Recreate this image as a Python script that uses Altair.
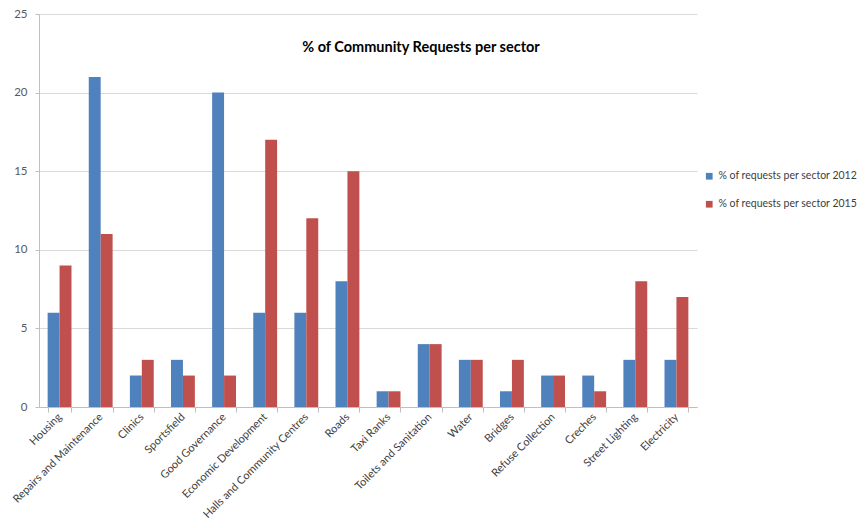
import altair as alt
import pandas as pd

sectors = ["Housing", "Repairs and Maintenance", "Clinics", "Sportsfield", "Good Governance",
           "Economic Development", "Halls and Community Centres", "Roads", "Taxi Ranks",
           "Toilets and Sanitation", "Water", "Bridges", "Refuse Collection", "Creches",
           "Street Lighting", "Electricity"]
values_2012 = [6, 21, 2, 3, 20, 6, 6, 8, 1, 4, 3, 1, 2, 2, 3, 3]
values_2015 = [9, 11, 3, 2, 2, 17, 12, 15, 1, 4, 3, 3, 2, 1, 8, 7]
series_names = ["% of requests per sector 2012", "% of requests per sector 2015"]
colors = ["#4F81BD", "#C0504D"]

rows = []
for s, a, b in zip(sectors, values_2012, values_2015):
    rows.append({"sector": s, "series": series_names[0], "value": a})
    rows.append({"sector": s, "series": series_names[1], "value": b})
df = pd.DataFrame(rows)

FONT = "Lato"

chart = alt.Chart(df).mark_bar().encode(
    x=alt.X("sector:N", sort=sectors,
            scale=alt.Scale(paddingInner=0.42, paddingOuter=0.21),
            axis=alt.Axis(title=None, labelAngle=-45, labelAlign="right", labelBaseline="middle",
                          tickBand="extent", tickSize=5, tickColor="#BFBFBF",
                          domainColor="#BFBFBF", labelColor="#404040", labelFont=FONT,
                          labelFontSize=11, labelPadding=3, grid=False, labelLimit=400)),
    xOffset=alt.XOffset("series:N", sort=series_names),
    y=alt.Y("value:Q", scale=alt.Scale(domain=[0, 25]),
            axis=alt.Axis(title=None, values=[0, 5, 10, 15, 20, 25], tickSize=4,
                          tickColor="#BFBFBF", domainColor="#BFBFBF", gridColor="#D9D9D9",
                          labelColor="#595959", labelFont=FONT, labelFontSize=11.5,
                          labelPadding=8)),
    color=alt.Color("series:N", sort=series_names,
                    scale=alt.Scale(domain=series_names, range=colors),
                    legend=alt.Legend(title=None, orient="none", legendX=665, legendY=157,
                                      symbolType="square", symbolSize=45, symbolStrokeWidth=0,
                                      labelFont=FONT, labelFontSize=10.5, labelColor="#404040",
                                      labelOffset=4, rowPadding=17, labelLimit=300)),
).properties(
    width=658, height=393,
    autosize=alt.AutoSizeParams(type="none"),
    padding={"left": 31, "top": 6, "right": 162, "bottom": 112},
    title=alt.TitleParams("% of Community Requests per sector", font=FONT, fontSize=14.5,
                          fontWeight="bold", color="#000000", offset=-47, dx=53),
).configure_view(stroke=None)

chart.save("out.html", embed_options={"renderer": "svg", "actions": False})
